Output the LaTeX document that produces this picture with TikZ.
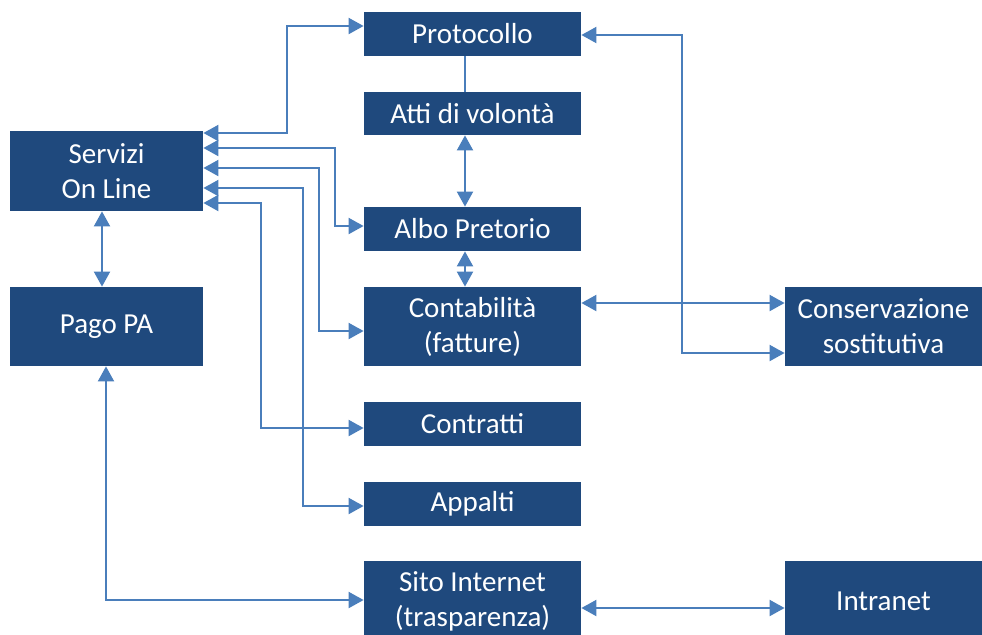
\documentclass[tikz,border=0pt]{standalone}
\usepackage{fontspec}
\setmainfont{Carlito}
\usetikzlibrary{arrows.meta}

\definecolor{boxblue}{RGB}{31,73,125}
\definecolor{linkblue}{RGB}{74,126,187}

\begin{document}
\begin{tikzpicture}[x=0.5pt, y=-0.5pt,
        box/.style={rectangle, fill=boxblue, text=white, inner sep=0pt, align=center,
            font=\fontsize{14.5}{17.5}\selectfont, minimum width=108.5pt, minimum height=22pt},
        link/.style={draw=linkblue, line width=1pt,
            {Triangle[length=7.5pt,width=8pt]}-{Triangle[length=7.5pt,width=8pt]}}]
        \useasboundingbox (0,0) rectangle (982,634);

        \node[box] (proto) at (472.5, 34) {Protocollo};
        \node[box, minimum height=21.5pt] (atti) at (472.5, 113.5) {Atti di volontà};
        \node[box, minimum width=96.5pt, minimum height=40pt] (servizi) at (106.5, 171) {Servizi\\On Line};
        \node[box] (albo) at (472.5, 229) {Albo Pretorio};
        \node[box, minimum width=96.5pt, minimum height=39.5pt] (pago) at (106.5, 326.5) {Pago PA};
        \node[box, minimum height=39.5pt] (conta) at (472.5, 326.5) {Contabilità\\(fatture)};
        \node[box, minimum width=98.5pt, minimum height=39.5pt] (conserv) at (883.5, 326.5) {Conservazione\\sostitutiva};
        \node[box] (contratti) at (472.5, 424) {Contratti};
        \node[box] (appalti) at (472.5, 504) {Appalti};
        \node[box, minimum height=40pt] (sito) at (472.5, 601) {Sito Internet\\(trasparenza)};
        \node[box, minimum width=98.5pt, minimum height=40pt] (intranet) at (883.5, 601) {Intranet};

        % Servizi On Line to the offices
        \draw[link] (servizi.east |- 0,133) -| (287,26) -- (proto.west |- 0,26);
        \draw[link] (servizi.east |- 0,148) -| (335,226) -- (albo.west |- 0,226);
        \draw[link] (servizi.east |- 0,168) -| (319,331) -- (conta.west |- 0,331);
        \draw[link] (servizi.east |- 0,188) -| (303,506) -- (appalti.west |- 0,506);
        \draw[link] (servizi.east |- 0,203) -| (261,428) -- (contratti.west |- 0,428);
        \draw[link] (servizi.south -| 102,0) -- (pago.north -| 102,0);
        \draw[link] (pago.south -| 106,0) |- (sito.west |- 0,600);

        % middle column
        \draw[draw=linkblue, line width=1pt] (proto.south -| 465,0) -- (atti.north -| 465,0);
        \draw[link] (atti.south -| 465,0) -- (albo.north -| 465,0);
        \draw[link] (albo.south -| 465,0) -- (conta.north -| 465,0);

        % Conservazione sostitutiva and Intranet
        \draw[link] (proto.east |- 0,35) -| (682,353) -- (conserv.west |- 0,353);
        \draw[link] (conta.east |- 0,303) -- (conserv.west |- 0,303);
        \draw[link] (sito.east |- 0,608) -- (intranet.west |- 0,608);
\end{tikzpicture}
\end{document}
